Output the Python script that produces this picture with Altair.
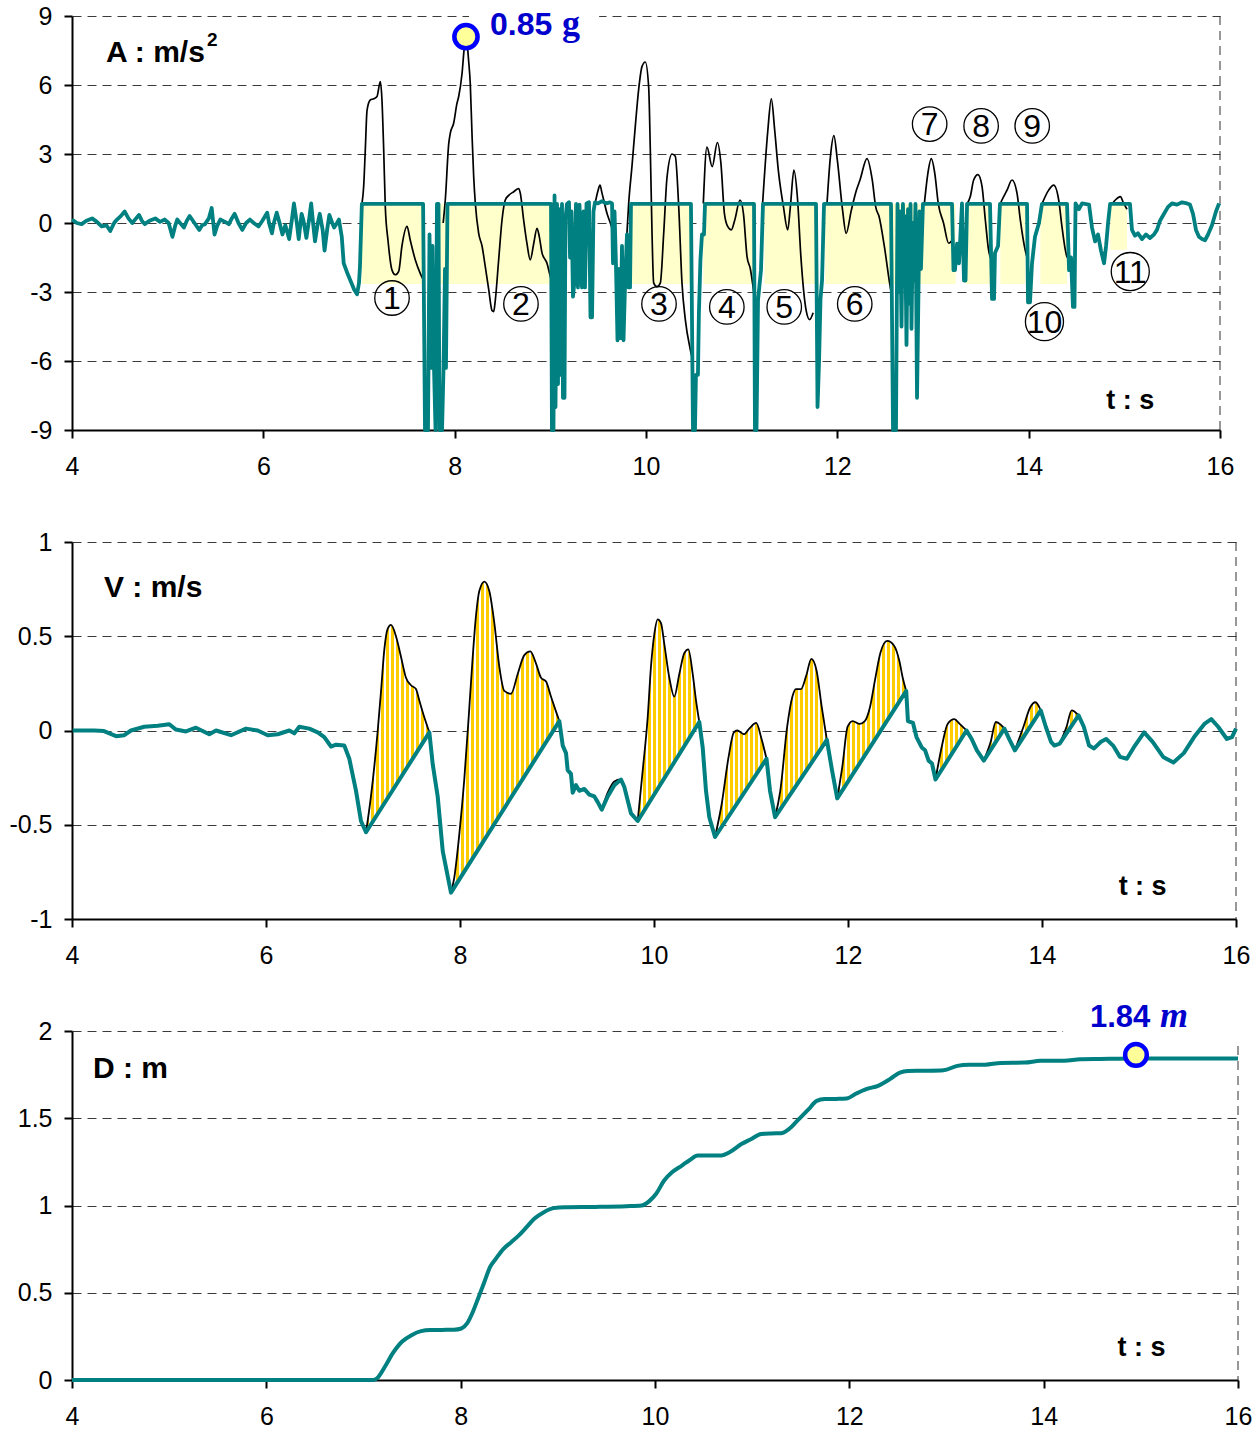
import altair as alt
import pandas as pd

TEAL = "#008080"
GOLD = "#FFCC00"
PALE = "#FFFFCC"
BLUE = "#0000CC"
RING = "#0000FF"
SANS = "Liberation Sans"
SERIF = "Liberation Serif"

# ---------------- Panel A : acceleration (m/s^2) ----------------
A_TEAL = [
    (4.00, 0.15), (4.05, 0.0), (4.10, -0.05), (4.15, 0.1), (4.21, 0.2), (4.26, 0.05), (4.31, -0.15),
    (4.36, -0.1), (4.40, -0.35), (4.44, 0.0), (4.47, 0.15), (4.51, 0.3), (4.55, 0.5), (4.59, 0.2),
    (4.63, 0.0), (4.67, 0.2), (4.70, 0.35), (4.73, 0.1), (4.76, -0.05), (4.81, 0.1), (4.87, 0.2),
    (4.92, 0.05), (4.97, 0.15), (5.01, 0.0), (5.05, -0.6), (5.08, -0.1), (5.10, 0.15), (5.14, -0.05),
    (5.17, -0.2), (5.20, 0.1), (5.23, 0.3), (5.28, 0.0), (5.33, -0.3), (5.36, -0.1), (5.39, -0.05),
    (5.43, 0.2), (5.46, 0.65), (5.49, -0.5), (5.52, -0.1), (5.55, 0.15), (5.60, 0.05), (5.64, -0.05),
    (5.67, 0.2), (5.70, 0.4), (5.74, 0.0), (5.78, -0.3), (5.82, 0.0), (5.86, 0.15), (5.90, 0.0),
    (5.95, -0.15), (5.99, 0.1), (6.04, 0.45), (6.06, 0.0), (6.09, -0.45), (6.11, 0.0), (6.14, 0.45),
    (6.17, 0.0), (6.20, -0.5), (6.23, -0.1), (6.27, -0.7), (6.30, 0.2), (6.32, 0.85), (6.35, 0.0),
    (6.37, -0.7), (6.40, 0.4), (6.42, 0.1), (6.45, -0.65), (6.48, 0.2), (6.50, 0.85), (6.52, 0.0),
    (6.54, -0.8), (6.57, 0.0), (6.59, 0.4), (6.62, -0.3), (6.64, -1.2), (6.67, -0.2), (6.69, 0.35),
    (6.72, 0.0), (6.74, -0.2), (6.77, 0.0), (6.79, 0.15), (6.82, -0.6), (6.84, -1.75), (6.88, -2.2),
    (6.91, -2.5), (6.95, -2.9), (6.98, -3.1), (7.00, -2.6), (7.01, -1.9), (7.03, 0.83),
    (7.67, 0.83), (7.690, -9), (7.721, -9), (7.737, -0.5), (7.753, -6.3), (7.768, -1.0), (7.784, -6.3),
    (7.800, -9), (7.815, 0.83), (7.831, 0.83), (7.841, -9), (7.868, -9), (7.883, -6.4), (7.899, -2.0),
    (7.909, -6.3), (7.925, 0.83),
    (9.007, 0.83), (9.017, -9), (9.033, -9), (9.044, 1.2), (9.054, -8), (9.070, 0.83), (9.080, -7),
    (9.091, 0.6), (9.106, -6.6), (9.122, 0.83), (9.132, -7.6), (9.148, -7.6), (9.158, 0.2), (9.174, 0.83),
    (9.195, 0.9), (9.206, -1.5), (9.221, 0.5), (9.237, -3.2), (9.253, -2.5), (9.268, 0.83), (9.289, -2.8),
    (9.305, 0.8), (9.331, -2.8), (9.347, 0.5), (9.362, -2.8), (9.378, 0.85), (9.404, 0.9), (9.420, -4.1),
    (9.436, -4.1), (9.451, 0.5), (9.467, 0.9), (9.498, 0.85), (9.540, 0.95), (9.582, 0.85), (9.624, 0.9),
    (9.645, 0.85), (9.655, -1.75), (9.671, 0.5), (9.686, -1.8), (9.702, -5.1), (9.718, -2.0), (9.733, -5.0),
    (9.749, -1.0), (9.765, -5.1), (9.780, -2.8), (9.801, -0.5), (9.817, -2.8), (9.833, -2.8), (9.843, 0.83),
    (10.470, 0.83), (10.491, -9), (10.512, -9), (10.522, -6.6), (10.543, -6.6), (10.553, -3.9),
    (10.569, -1.6), (10.585, -0.5), (10.606, -0.5), (10.617, 0.83),
    (11.129, 0.83), (11.139, -9), (11.155, -9), (11.171, -3.35), (11.202, -2.05), (11.223, 0.83),
    (11.777, 0.83), (11.793, -8.0), (11.809, -6.0), (11.824, -3.3), (11.840, -2.5), (11.861, 0.83),
    (12.561, 0.83), (12.582, -9), (12.613, -9), (12.629, 0.83), (12.645, -3), (12.655, 0.5), (12.671, -4.5),
    (12.686, 0.83), (12.697, -2), (12.707, 0.3), (12.723, -5.3), (12.739, 0.6), (12.749, -3.5),
    (12.765, 0.83), (12.775, -4.6), (12.791, 0), (12.801, -2.5), (12.817, 0.83), (12.833, -7.6),
    (12.848, -3), (12.859, 0.5), (12.874, -2), (12.895, 0.83),
    (13.199, 0.83), (13.214, -2.05), (13.230, -2.05), (13.251, -0.9), (13.272, -1.75), (13.303, 0.85),
    (13.324, -2.5), (13.340, -2.5), (13.356, 0.83),
    (13.596, 0.83), (13.617, -3.3), (13.638, -3.3), (13.648, -1.3), (13.680, -1.0), (13.700, 0.83),
    (13.983, 0.83), (13.993, -3.45), (14.014, -3.45), (14.035, -1.75), (14.066, -0.6), (14.087, -0.3),
    (14.108, 0), (14.139, 0.83),
    (14.401, 0.83), (14.422, -2.05), (14.443, -1.5), (14.463, -3.65), (14.479, -3.65), (14.490, 0.85),
    (14.526, 0.6), (14.558, 0.85), (14.631, 0.8), (14.662, -0.2), (14.694, -0.8), (14.725, -0.5),
    (14.756, -1.2), (14.788, -1.75), (14.809, -1.0), (14.830, 0), (14.851, 0.83),
    (15.059, 0.83), (15.080, -0.3), (15.111, -0.55), (15.143, -0.45), (15.185, -0.7), (15.226, -0.5),
    (15.268, -0.65), (15.310, -0.5), (15.341, -0.3), (15.373, 0.1), (15.415, 0.4), (15.457, 0.7),
    (15.498, 0.85), (15.551, 0.8), (15.603, 0.9), (15.655, 0.85), (15.686, 0.8), (15.718, 0.4),
    (15.749, -0.3), (15.780, -0.6), (15.812, -0.7), (15.843, -0.75), (15.875, -0.5), (15.916, -0.1),
    (15.958, 0.5), (15.990, 0.85),
]

A_BLACK = [
    [(7.031, 0.83), (7.049, 1.6), (7.066, 3.2), (7.084, 4.9), (7.118, 5.35), (7.154, 5.4), (7.188, 5.5),
     (7.223, 6.15), (7.240, 5.35), (7.258, 3.2), (7.275, 0.7), (7.303, -0.75), (7.345, -2.05),
     (7.379, -2.25), (7.415, -2.1), (7.449, -1.0), (7.502, -0.15), (7.536, -0.75), (7.588, -1.6),
     (7.641, -2.2), (7.676, -2.5)],
    [(7.88, 0.0), (7.902, 1.0), (7.938, 3.45), (7.954, 3.9), (7.990, 4.35), (8.024, 5.2), (8.042, 5.5),
     (8.077, 6.5), (8.100, 7.6), (8.118, 8.1), (8.135, 7.6), (8.147, 7.0), (8.163, 6.07), (8.181, 3.9),
     (8.199, 2.0), (8.216, 0.85), (8.251, -0.45), (8.286, -1.0), (8.320, -1.9), (8.356, -2.9),
     (8.390, -3.8), (8.408, -3.85), (8.425, -3.35), (8.460, -1.6), (8.495, 0.13), (8.529, 1.0),
     (8.565, 1.2), (8.617, 1.36), (8.669, 1.5), (8.686, 1.3), (8.721, 0.13), (8.756, -0.9),
     (8.790, -1.6), (8.826, -0.9), (8.861, -0.23), (8.885, -0.6), (8.913, -1.3), (8.965, -1.75),
     (9.000, -2.33), (9.02, -2.6)],
    [(9.467, 0.83), (9.498, 1.4), (9.519, 1.65), (9.540, 1.3), (9.558, 1.0), (9.592, 0.42),
     (9.627, 0.0), (9.65, -0.3)],
    [(9.80, -0.5), (9.819, 0.85), (9.853, 2.45), (9.888, 4.2), (9.923, 5.8), (9.958, 6.8), (9.993, 7.0),
     (10.028, 5.9), (10.045, 3.2), (10.063, -0.45), (10.080, -2.6), (10.115, -2.77), (10.150, -2.6),
     (10.185, -0.45), (10.220, 2.0), (10.272, 3.0), (10.306, 2.9), (10.342, 0.7), (10.376, -2.6),
     (10.411, -4.2), (10.463, -5.5), (10.49, -6.0)],
    [(10.599, 0.85), (10.637, 3.3), (10.692, 2.45), (10.746, 3.5), (10.783, 2.6), (10.820, 0.4),
     (10.855, -0.16), (10.892, -0.3), (10.928, 0.13), (10.983, 1.0), (11.019, 0.4), (11.056, -1.46),
     (11.091, -2.0), (11.128, -3.05)],
    [(11.219, 0.85), (11.273, 4.0), (11.310, 5.4), (11.346, 4.0), (11.383, 2.3), (11.437, 0.7),
     (11.481, -0.3), (11.509, 0.7), (11.546, 2.3), (11.583, 1.1), (11.619, -1.46), (11.674, -3.8),
     (11.710, -4.2), (11.747, -3.9)],
    [(11.892, 0.85), (11.928, 2.9), (11.964, 3.8), (12.001, 2.7), (12.055, 0.55), (12.092, -0.45),
     (12.146, 0.55), (12.200, 1.43), (12.237, 1.87), (12.310, 2.8), (12.365, 1.87), (12.401, 0.7),
     (12.437, 0.27), (12.492, -1.03), (12.546, -2.6), (12.564, -3.05)],
    [(12.910, 0.85), (12.946, 2.15), (12.982, 2.8), (13.019, 2.15), (13.055, 0.85), (13.110, 0.0),
     (13.164, -0.88), (13.201, -0.75)],
    [(13.355, 0.83), (13.390, 1.15), (13.425, 1.87), (13.470, 2.1), (13.512, 1.6), (13.547, 0.13),
     (13.582, -1.2), (13.599, -1.5)],
    [(13.703, 0.83), (13.721, 1.0), (13.774, 1.43), (13.826, 1.87), (13.878, 1.3), (13.913, 0.13),
     (13.965, -1.2), (13.983, -1.5)],
    [(14.139, 0.83), (14.209, 1.43), (14.262, 1.65), (14.314, 1.0), (14.348, -0.16), (14.383, -1.17),
     (14.401, -1.5)],
    [(14.871, 0.83), (14.906, 1.0), (14.958, 1.15), (14.993, 0.85), (15.028, 0.6)],
]

A_FILL_START = [7.031, 7.836, 9.846, 10.599, 11.238, 11.873, 13.338, 13.703, 14.122, 14.853]
A_FILL_END = [7.676, 8.996, 10.470, 11.128, 11.800, 13.237, 13.599, 13.965, 14.401, 15.028]
A_FILL_TOP = [0.83] * 10
A_FILL_LOW = [-2.65, -2.65, -2.65, -2.65, -2.65, -2.65, -2.65, -2.65, -2.65, -1.17]

EV_LABEL = ["1", "2", "3", "4", "5", "6", "7", "8", "9", "10", "11"]
EV_T = [7.345, 8.693, 10.136, 10.845, 11.445, 12.182, 12.965, 13.503, 14.037, 14.165, 15.062]
EV_Y = [-3.26, -3.52, -3.52, -3.65, -3.65, -3.52, 4.30, 4.22, 4.22, -4.29, -2.11]

A_PEAK_T, A_PEAK_Y = 8.118, 8.10

# ---------------- Panel V : velocity (m/s) ----------------
V_TEAL = [
    (4.007, 0.0), (4.230, 0.0), (4.330, -0.003), (4.454, -0.03), (4.539, -0.025), (4.608, 0.0),
    (4.745, 0.02), (4.884, 0.025), (5.003, 0.033), (5.072, 0.005), (5.175, -0.005), (5.278, 0.015),
    (5.415, -0.02), (5.485, 0.0), (5.639, -0.025), (5.794, 0.01), (5.914, 0.0), (6.018, -0.025),
    (6.121, -0.02), (6.240, 0.0), (6.292, -0.015), (6.343, 0.02), (6.446, 0.01), (6.533, -0.01),
    (6.601, -0.035), (6.670, -0.085), (6.722, -0.075), (6.807, -0.08), (6.859, -0.15), (6.928, -0.32),
    (6.979, -0.48), (7.031, -0.54), (7.684, -0.01), (7.719, -0.18), (7.770, -0.35), (7.822, -0.64),
    (7.907, -0.86), (9.024, 0.05), (9.059, -0.08), (9.093, -0.12), (9.110, -0.21), (9.144, -0.23),
    (9.162, -0.33), (9.196, -0.29), (9.230, -0.32), (9.281, -0.31), (9.333, -0.34), (9.385, -0.35),
    (9.420, -0.38), (9.461, -0.42), (9.523, -0.35), (9.591, -0.29), (9.660, -0.26), (9.694, -0.3),
    (9.763, -0.44), (9.832, -0.48), (10.467, 0.045), (10.502, -0.09), (10.536, -0.32), (10.570, -0.46),
    (10.629, -0.565), (11.160, -0.15), (11.196, -0.32), (11.248, -0.46), (11.782, -0.05), (11.835, -0.21),
    (11.889, -0.36), (12.600, 0.21), (12.618, 0.05), (12.670, 0.04), (12.706, -0.035), (12.760, -0.09),
    (12.795, -0.105), (12.831, -0.16), (12.866, -0.175), (12.902, -0.26), (13.222, 0.0), (13.275, -0.045),
    (13.329, -0.105), (13.400, -0.16), (13.612, 0.01), (13.666, -0.05), (13.720, -0.105), (13.987, 0.107),
    (14.039, 0.02), (14.093, -0.06), (14.128, -0.08), (14.182, -0.07), (14.377, 0.08), (14.431, 0.02),
    (14.485, -0.08), (14.537, -0.095), (14.608, -0.06), (14.662, -0.045), (14.733, -0.08), (14.804, -0.14),
    (14.875, -0.15), (14.946, -0.09), (15.053, -0.01), (15.141, -0.06), (15.249, -0.14), (15.355, -0.17),
    (15.462, -0.12), (15.568, -0.035), (15.674, 0.035), (15.745, 0.06), (15.816, 0.02), (15.906, -0.045),
    (15.959, -0.035), (16.0, 0.01),
]

V_EVENTS = [
    [(7.031, -0.54), (7.082, -0.35), (7.152, 0.0), (7.186, 0.21), (7.220, 0.43), (7.255, 0.54),
     (7.289, 0.56), (7.340, 0.5), (7.392, 0.39), (7.443, 0.28), (7.495, 0.24), (7.546, 0.22),
     (7.580, 0.16), (7.632, 0.07), (7.684, -0.01)],
    [(7.907, -0.86), (7.941, -0.78), (7.993, -0.55), (8.044, -0.26), (8.096, 0.12), (8.131, 0.39),
     (8.165, 0.61), (8.199, 0.74), (8.251, 0.79), (8.302, 0.74), (8.354, 0.57), (8.405, 0.34),
     (8.457, 0.21), (8.526, 0.195), (8.595, 0.30), (8.663, 0.40), (8.725, 0.42), (8.784, 0.355),
     (8.835, 0.28), (8.887, 0.26), (8.938, 0.18), (8.990, 0.10), (9.024, 0.05)],
    [(9.832, -0.48), (9.884, -0.21), (9.935, 0.07), (9.969, 0.34), (10.003, 0.51), (10.038, 0.59),
     (10.072, 0.57), (10.106, 0.46), (10.158, 0.28), (10.209, 0.18), (10.261, 0.30), (10.312, 0.41),
     (10.354, 0.43), (10.399, 0.30), (10.433, 0.16), (10.467, 0.045)],
    [(10.629, -0.565), (10.698, -0.39), (10.769, -0.14), (10.823, -0.01), (10.858, 0.0), (10.929, -0.02),
     (10.982, 0.01), (11.054, 0.04), (11.106, -0.04), (11.160, -0.15)],
    [(11.248, -0.46), (11.302, -0.32), (11.373, 0.02), (11.427, 0.18), (11.462, 0.22), (11.515, 0.22),
     (11.569, 0.29), (11.622, 0.38), (11.675, 0.32), (11.729, 0.125), (11.782, -0.05)],
    [(11.889, -0.36), (11.942, -0.19), (11.996, 0.02), (12.048, 0.05), (12.120, 0.035), (12.173, 0.05),
     (12.227, 0.125), (12.279, 0.27), (12.333, 0.41), (12.404, 0.475), (12.475, 0.45), (12.529, 0.37),
     (12.564, 0.28), (12.600, 0.21)],
    [(12.902, -0.26), (12.973, -0.07), (13.027, 0.035), (13.097, 0.06), (13.151, 0.035), (13.222, 0.0)],
    [(13.400, -0.16), (13.471, -0.06), (13.524, 0.045), (13.577, 0.03), (13.612, 0.01)],
    [(13.720, -0.105), (13.809, 0.02), (13.880, 0.125), (13.933, 0.15), (13.987, 0.107)],
    [(14.182, -0.07), (14.253, 0.02), (14.306, 0.107), (14.377, 0.08)],
]
V_EXTRA = [(9.461, -0.42), (9.523, -0.33), (9.591, -0.27), (9.653, -0.26), (9.694, -0.29)]

# ---------------- Panel D : displacement (m) ----------------
D_TEAL = [
    (4.0, 0.0), (7.099, 0.0), (7.14, 0.01), (7.22, 0.076), (7.30, 0.152), (7.395, 0.219), (7.494, 0.257),
    (7.593, 0.28), (7.69, 0.286), (7.81, 0.287), (7.93, 0.288), (8.007, 0.295), (8.066, 0.324),
    (8.125, 0.39), (8.185, 0.476), (8.244, 0.562), (8.303, 0.648), (8.362, 0.695), (8.441, 0.752),
    (8.520, 0.79), (8.599, 0.829), (8.678, 0.876), (8.757, 0.924), (8.856, 0.962), (8.955, 0.985),
    (9.073, 0.99), (9.389, 0.992), (9.705, 0.996), (9.863, 1.0), (9.941, 1.025), (10.012, 1.067),
    (10.094, 1.143), (10.175, 1.19), (10.277, 1.229), (10.359, 1.261), (10.440, 1.286), (10.563, 1.286),
    (10.685, 1.287), (10.767, 1.305), (10.889, 1.352), (10.991, 1.381), (11.093, 1.41), (11.195, 1.413),
    (11.297, 1.414), (11.378, 1.438), (11.480, 1.495), (11.582, 1.552), (11.664, 1.6), (11.746, 1.61),
    (11.868, 1.611), (11.970, 1.613), (12.072, 1.642), (12.174, 1.667), (12.296, 1.686), (12.418, 1.724),
    (12.520, 1.762), (12.602, 1.771), (12.786, 1.772), (12.969, 1.775), (13.112, 1.8), (13.234, 1.806),
    (13.397, 1.807), (13.560, 1.817), (13.805, 1.819), (13.968, 1.829), (14.213, 1.830), (14.376, 1.838),
    (14.580, 1.84), (14.947, 1.843), (15.355, 1.843), (16.0, 1.843),
]
D_PEAK_T, D_PEAK_Y = 14.95, 1.863

X_TICKS = [4, 6, 8, 10, 12, 14, 16]
A_TICKS = [-9, -6, -3, 0, 3, 6, 9]
V_TICKS = [-1, -0.5, 0, 0.5, 1]
D_TICKS = [0, 0.5, 1, 1.5, 2]

# ---------------- helpers ----------------
XS = alt.Scale(domain=[4, 16], nice=False, zero=False)


def x_axis():
    return alt.Axis(values=X_TICKS, title=None, grid=False, labelExpr="'' + datum.value",
                    labelFont=SANS, labelFontSize=25, labelColor="black", labelPadding=16,
                    labelFlush=False, labelOverlap=False, domainColor="black", domainWidth=2,
                    tickColor="black", tickWidth=2, tickSize=8)


def y_axis(vals):
    return alt.Axis(values=vals, title=None, grid=True, gridColor="#3a3a3a", gridDash=[9, 6],
                    gridWidth=1, labelExpr="'' + datum.value", labelFont=SANS, labelFontSize=25,
                    labelColor="black", labelPadding=12, labelFlush=False, labelOverlap=False,
                    domainColor="black", domainWidth=2, tickColor="black", tickWidth=2, tickSize=8)


def X(f="t"):
    return alt.X(f"{f}:Q", scale=XS, axis=x_axis())


def make_y(dom, vals):
    sc = alt.Scale(domain=dom, nice=False, zero=False)

    def Y(f="y"):
        return alt.Y(f"{f}:Q", scale=sc, axis=y_axis(vals))
    return Y


def border():
    return alt.Chart(pd.DataFrame({"t": [16]})).mark_rule(
        color="#303030", strokeDash=[9, 6], strokeWidth=1).encode(x=X())


def text_layer(Y, rows, **kw):
    df = pd.DataFrame(rows, columns=["t", "y", "txt"])
    return alt.Chart(df).mark_text(**kw).encode(x=X(), y=Y(), text="txt:N")


def stripes(width_px, period=5.0, gold=3.0):
    stops = []
    x = 0.0
    while x < width_px:
        a = x / width_px
        b = min((x + gold) / width_px, 1.0)
        c = min((x + period) / width_px, 1.0)
        stops += [alt.GradientStop(offset=a, color=GOLD), alt.GradientStop(offset=b, color=GOLD),
                  alt.GradientStop(offset=b, color="white"), alt.GradientStop(offset=c, color="white")]
        x += period
    return alt.LinearGradient(gradient="linear", stops=stops, x1=0, x2=1, y1=0, y2=0)


def bold(Y, rows, size, **kw):
    return text_layer(Y, rows, font=SANS, fontSize=size, fontWeight="bold", color="black",
                      align="left", baseline="alphabetic", **kw)


# ---------------- Panel A ----------------
YA = make_y([-9, 9], A_TICKS)
WA, HA = 1148, 414

df_teal_a = pd.DataFrame(A_TEAL, columns=["t", "y"])
df_black_a = pd.DataFrame([(t, y, i) for i, seg in enumerate(A_BLACK) for t, y in seg],
                          columns=["t", "y", "seg"])
df_fill_a = pd.DataFrame({"t0": A_FILL_START, "t1": A_FILL_END, "y0": A_FILL_TOP, "y1": A_FILL_LOW})
df_ev = pd.DataFrame({"t": EV_T, "y": EV_Y, "txt": EV_LABEL,
                      "sz": [1190 if len(s) == 1 else 1450 for s in EV_LABEL]})

bg_a = alt.Chart(pd.DataFrame({"t0": [8.15], "t1": [9.51], "y0": [9.35], "y1": [7.96]})).mark_rect(
    color="white").encode(x=X("t0"), x2=alt.X2("t1"), y=YA("y0"), y2=alt.Y2("y1"))
fill_a = alt.Chart(df_fill_a).mark_rect(color=PALE).encode(
    x=X("t0"), x2=alt.X2("t1"), y=YA("y0"), y2=alt.Y2("y1"))
black_a = alt.Chart(df_black_a).mark_line(color="black", strokeWidth=1.7, interpolate="monotone").encode(
    x=X(), y=YA(), detail="seg:N")
teal_a = alt.Chart(df_teal_a).mark_line(color=TEAL, strokeWidth=3.8, strokeJoin="round").encode(
    x=X(), y=YA())
ev_ring = alt.Chart(df_ev).mark_point(shape="circle", filled=False, color="black", strokeWidth=1.3,
                                      opacity=1).encode(x=X(), y=YA(),
                                                        size=alt.Size("sz:Q", scale=None, legend=None))
ev_txt = alt.Chart(df_ev).mark_text(font=SANS, fontSize=32, color="black", dy=1).encode(
    x=X(), y=YA(), text="txt:N")
peak_a = alt.Chart(pd.DataFrame({"t": [A_PEAK_T], "y": [A_PEAK_Y]})).mark_point(
    shape="circle", size=540, filled=True, fill="#FFFF99", stroke=RING, strokeWidth=4.5, opacity=1).encode(
    x=X(), y=YA())
lbl_a1 = text_layer(YA, [(8.369, 8.17, "0.85")], font=SANS, fontSize=32, fontWeight="bold", color=BLUE,
                    align="left", baseline="alphabetic")
lbl_a2 = text_layer(YA, [(9.122, 8.17, "g")], font=SERIF, fontSize=36, fontWeight="bold", color=BLUE,
                    align="left", baseline="alphabetic")
ttl_a = bold(YA, [(4.355, 7.0, "A : m/s")], 30)
ttl_a2 = bold(YA, [(5.41, 7.68, "2")], 19)
ts_a = bold(YA, [(14.81, -8.09, "t : s")], 27)

panel_a = alt.layer(bg_a, border(), fill_a, black_a, teal_a, ev_ring, ev_txt, peak_a,
                    lbl_a1, lbl_a2, ttl_a, ttl_a2, ts_a).properties(width=WA, height=HA)

# ---------------- Panel V ----------------
YV = make_y([-1, 1], V_TICKS)
WV, HV = 1164, 377
PXV = WV / 12.0

areas = []
for k, seg in enumerate(V_EVENTS):
    t0, v0 = seg[0]
    t1, v1 = seg[-1]
    dfk = pd.DataFrame(seg, columns=["t", "y"])
    areas.append(
        alt.Chart(dfk).transform_calculate(
            base=f"({v0}) + (({v1}) - ({v0})) * (datum.t - ({t0})) / (({t1}) - ({t0}))"
        ).mark_area(fill=stripes((t1 - t0) * PXV), interpolate="monotone", opacity=1).encode(
            x=X(), y=YV(), y2=alt.Y2("base"))
    )

df_black_v = pd.DataFrame([(t, y, i) for i, seg in enumerate(V_EVENTS + [V_EXTRA]) for t, y in seg],
                          columns=["t", "y", "seg"])
black_v = alt.Chart(df_black_v).mark_line(color="black", strokeWidth=1.8, interpolate="monotone").encode(
    x=X(), y=YV(), detail="seg:N")
teal_v = alt.Chart(pd.DataFrame(V_TEAL, columns=["t", "y"])).mark_line(
    color=TEAL, strokeWidth=4, strokeJoin="round").encode(x=X(), y=YV())
ttl_v = bold(YV, [(4.33, 0.708, "V : m/s")], 30)
ts_v = bold(YV, [(14.79, -0.873, "t : s")], 27)

panel_v = alt.layer(border(), *areas, black_v, teal_v, ttl_v, ts_v).properties(width=WV, height=HV)

# ---------------- Panel D ----------------
YD = make_y([0, 2], D_TICKS)
WD, HD = 1166, 349

bg_d = alt.Chart(pd.DataFrame({"t0": [14.2], "t1": [16.06], "y0": [2.25], "y1": [1.914]})).mark_rect(
    color="white").encode(x=X("t0"), x2=alt.X2("t1"), y=YD("y0"), y2=alt.Y2("y1"))
teal_d = alt.Chart(pd.DataFrame(D_TEAL, columns=["t", "y"])).mark_line(
    color=TEAL, strokeWidth=4, interpolate="monotone").encode(x=X(), y=YD())
peak_d = alt.Chart(pd.DataFrame({"t": [D_PEAK_T], "y": [D_PEAK_Y]})).mark_point(
    shape="circle", size=470, filled=True, fill="#FFFF99", stroke=RING, strokeWidth=4.5, opacity=1).encode(
    x=X(), y=YD())
lbl_d1 = text_layer(YD, [(14.476, 2.023, "1.84")], font=SANS, fontSize=31, fontWeight="bold", color=BLUE,
                    align="left", baseline="alphabetic")
lbl_d2 = text_layer(YD, [(15.197, 2.023, "m")], font=SERIF, fontSize=36, fontWeight="bold",
                    fontStyle="italic", color=BLUE, align="left", baseline="alphabetic")
ttl_d = bold(YD, [(4.216, 1.731, "D : m")], 30)
ts_d = bold(YD, [(14.76, 0.137, "t : s")], 27)

panel_d = alt.layer(border(), bg_d, teal_d, peak_d, lbl_d1, lbl_d2, ttl_d, ts_d).properties(
    width=WD, height=HD)

chart = alt.vconcat(panel_a, panel_v, panel_d, spacing=112, bounds="flush").properties(
    padding={"left": 8, "top": 4, "right": 3, "bottom": 0}
).configure_view(stroke=None)

chart.save("out.html", embed_options={"renderer": "svg", "actions": False})
